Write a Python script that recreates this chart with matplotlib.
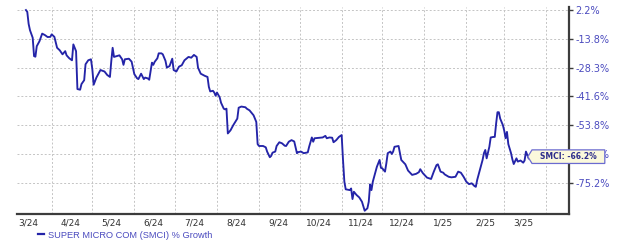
import numpy as np
import matplotlib
matplotlib.use('Agg')
import matplotlib.pyplot as plt
from matplotlib.path import Path
import pandas as pd

# Dati: crescita % di SMCI
DATES = [
    '2024-03-13', '2024-03-14', '2024-03-15', '2024-03-16', '2024-03-18', '2024-03-19', '2024-03-20',
    '2024-03-21', '2024-03-23', '2024-03-25', '2024-03-27', '2024-03-29', '2024-03-31', '2024-04-01',
    '2024-04-03', '2024-04-05', '2024-04-07', '2024-04-09', '2024-04-11', '2024-04-12', '2024-04-14',
    '2024-04-16', '2024-04-17', '2024-04-18', '2024-04-19', '2024-04-20', '2024-04-22', '2024-04-23',
    '2024-04-25', '2024-04-26', '2024-04-28', '2024-04-30', '2024-05-01', '2024-05-02', '2024-05-04',
    '2024-05-07', '2024-05-10', '2024-05-12', '2024-05-14', '2024-05-15', '2024-05-16', '2024-05-17',
    '2024-05-19', '2024-05-21', '2024-05-23', '2024-05-24', '2024-05-25', '2024-05-28', '2024-05-30',
    '2024-06-01', '2024-06-03', '2024-06-04', '2024-06-06', '2024-06-08', '2024-06-09', '2024-06-11',
    '2024-06-12', '2024-06-14', '2024-06-15', '2024-06-16', '2024-06-18', '2024-06-19', '2024-06-21',
    '2024-06-22', '2024-06-24', '2024-06-25', '2024-06-27', '2024-06-29', '2024-06-30', '2024-07-02',
    '2024-07-04', '2024-07-06', '2024-07-08', '2024-07-11', '2024-07-13', '2024-07-15', '2024-07-17',
    '2024-07-18', '2024-07-20', '2024-07-23', '2024-07-25', '2024-07-26', '2024-07-27', '2024-07-29',
    '2024-07-30', '2024-07-31', '2024-08-01', '2024-08-03', '2024-08-04', '2024-08-06', '2024-08-07',
    '2024-08-08', '2024-08-09', '2024-08-11', '2024-08-13', '2024-08-16', '2024-08-17', '2024-08-19',
    '2024-08-22', '2024-08-23', '2024-08-25', '2024-08-28', '2024-08-30', '2024-08-31', '2024-09-01',
    '2024-09-04', '2024-09-06', '2024-09-07', '2024-09-09', '2024-09-10', '2024-09-11', '2024-09-13',
    '2024-09-14', '2024-09-16', '2024-09-18', '2024-09-20', '2024-09-21', '2024-09-23', '2024-09-25',
    '2024-09-27', '2024-09-29', '2024-09-30', '2024-10-02', '2024-10-04', '2024-10-07', '2024-10-08',
    '2024-10-10', '2024-10-11', '2024-10-12', '2024-10-16', '2024-10-18', '2024-10-20', '2024-10-21',
    '2024-10-23', '2024-10-25', '2024-10-26', '2024-10-28', '2024-10-30', '2024-11-01', '2024-11-02',
    '2024-11-03', '2024-11-04', '2024-11-07', '2024-11-08', '2024-11-09', '2024-11-10', '2024-11-12',
    '2024-11-14', '2024-11-16', '2024-11-17', '2024-11-18', '2024-11-20', '2024-11-21', '2024-11-22',
    '2024-11-23', '2024-11-24', '2024-11-26', '2024-11-27', '2024-11-29', '2024-11-30', '2024-12-01',
    '2024-12-03', '2024-12-04', '2024-12-05', '2024-12-07', '2024-12-08', '2024-12-09', '2024-12-10',
    '2024-12-13', '2024-12-14', '2024-12-15', '2024-12-18', '2024-12-20', '2024-12-23', '2024-12-26',
    '2024-12-28', '2024-12-29', '2024-12-31', '2025-01-03', '2025-01-06', '2025-01-08', '2025-01-10',
    '2025-01-11', '2025-01-13', '2025-01-15', '2025-01-16', '2025-01-19', '2025-01-21', '2025-01-24',
    '2025-01-26', '2025-01-28', '2025-01-30', '2025-02-01', '2025-02-03', '2025-02-05', '2025-02-07',
    '2025-02-08', '2025-02-09', '2025-02-11', '2025-02-13', '2025-02-14', '2025-02-15', '2025-02-16',
    '2025-02-18', '2025-02-19', '2025-02-21', '2025-02-22', '2025-02-23', '2025-02-24', '2025-02-25',
    '2025-02-26', '2025-02-28', '2025-03-01', '2025-03-02', '2025-03-03', '2025-03-04', '2025-03-06',
    '2025-03-07', '2025-03-08', '2025-03-10', '2025-03-11', '2025-03-13', '2025-03-15', '2025-03-16',
    '2025-03-17', '2025-03-19',
]
GROWTH = [
    2.2, 1.2, -5.5, -9.0, -13.2, -22.5, -22.8,
    -17.5, -15.0, -10.9, -11.7, -12.8, -12.7, -11.3,
    -12.7, -18.3, -19.6, -21.6, -20.0, -22.1, -23.6,
    -24.6, -16.6, -18.3, -20.0, -38.2, -38.5, -35.9,
    -34.1, -26.6, -24.6, -24.1, -29.0, -36.2, -32.9,
    -29.4, -30.1, -31.7, -32.6, -25.0, -18.3, -22.9,
    -22.5, -22.1, -24.1, -26.9, -24.1, -23.8, -25.3,
    -31.3, -33.2, -33.6, -31.1, -33.6, -32.9, -33.3,
    -33.9, -25.8, -26.9, -25.4, -23.6, -21.1, -21.1,
    -21.6, -24.9, -28.3, -27.5, -23.8, -29.4, -30.1,
    -27.8, -27.1, -24.6, -22.9, -23.3, -21.9, -22.9,
    -28.3, -31.1, -32.1, -32.6, -37.2, -39.3, -39.0,
    -39.8, -41.3, -39.8, -42.0, -44.3, -46.8, -47.1,
    -46.8, -56.9, -55.7, -53.8, -51.0, -46.4, -45.9,
    -46.2, -46.8, -47.5, -49.6, -52.4, -60.9, -61.6,
    -61.6, -62.1, -63.7, -65.8, -65.3, -64.1, -63.7,
    -61.6, -60.2, -60.6, -61.5, -61.6, -60.0, -59.4,
    -59.9, -64.3, -63.9, -63.7, -64.3, -64.0, -61.9,
    -58.4, -60.0, -58.7, -58.5, -58.4, -57.8, -58.7,
    -58.4, -58.5, -60.2, -59.4, -58.2, -57.5, -66.8,
    -74.8, -77.6, -77.9, -77.3, -81.2, -78.5, -79.7,
    -80.6, -82.2, -83.8, -85.5, -84.6, -82.2, -75.8,
    -77.9, -74.8, -71.1, -69.3, -66.8, -69.7, -69.9,
    -71.1, -68.0, -64.3, -63.7, -64.6, -63.7, -61.9,
    -61.6, -64.3, -66.8, -68.4, -70.7, -72.3, -71.9,
    -71.3, -70.2, -71.7, -73.3, -73.8, -71.1, -68.7,
    -68.4, -71.1, -71.5, -72.1, -73.0, -73.2, -73.0,
    -71.1, -71.5, -73.0, -74.8, -75.7, -75.4, -76.4,
    -76.7, -74.2, -70.5, -66.8, -64.3, -63.1, -66.2,
    -61.9, -58.4, -58.2, -58.2, -53.1, -48.3, -48.3,
    -51.0, -53.8, -55.9, -58.7, -56.3, -60.9, -64.3,
    -66.6, -68.3, -66.2, -67.4, -67.0, -67.8, -67.0,
    -63.7, -66.2,
]

# Etichette dell'asse y (quella coperta dal riquadro e' stimata)
Y_TICKS = [2.2, -13.8, -28.3, -41.6, -53.8, -64.6, -75.2]
Y_LABELS = ['2.2%', '-13.8%', '-28.3%', '-41.6%', '-53.8%', '-64.6%', '-75.2%']
X_LABELS = ['3/24', '4/24', '5/24', '6/24', '7/24', '8/24', '9/24', '10/24',
            '11/24', '12/24', '1/25', '2/25', '3/25']
SERIES_NAME = 'SUPER MICRO COM (SMCI) % Growth'
TICKER = 'SMCI'

LINE_COLOR = '#2424a8'
LABEL_BLUE = '#4b4bbf'


# Scala y a tratti: le righe della griglia sono equidistanti ma i valori no
_xs = np.array(sorted(Y_TICKS), dtype=float)
_ps = np.arange(len(_xs), dtype=float)


def _piecewise(v, xs, ys):
    v = np.asarray(v, dtype=float)
    out = np.interp(v, xs, ys)
    s0 = (ys[1] - ys[0]) / (xs[1] - xs[0])
    s1 = (ys[-1] - ys[-2]) / (xs[-1] - xs[-2])
    out = np.where(v < xs[0], ys[0] + (v - xs[0]) * s0, out)
    out = np.where(v > xs[-1], ys[-1] + (v - xs[-1]) * s1, out)
    return out


def forward(v):
    return _piecewise(v, _xs, _ps)


def inverse(p):
    return _piecewise(p, _ps, _xs)


def tag_box(x0, y0, width, height, mutation_size):
    # riquadro con punta verso sinistra
    padx = mutation_size * 1.05
    pady = mutation_size * 0.3
    left, right = x0 - padx, x0 + width + padx
    bottom, top = y0 - pady, y0 + height + pady
    tip = left - mutation_size * 0.55
    verts = [(left, bottom), (right, bottom), (right, top), (left, top),
             (tip, (top + bottom) / 2), (left, bottom)]
    codes = [Path.MOVETO] + [Path.LINETO] * 4 + [Path.CLOSEPOLY]
    return Path(verts, codes)


dates = pd.to_datetime(DATES)

fig = plt.figure(figsize=(6.2, 2.46), dpi=100)
ax = fig.add_axes([17 / 620, 32 / 246, 552.3 / 620, 207 / 246])

ax.set_yscale('function', functions=(forward, inverse))

ax.plot(dates, GROWTH, color=LINE_COLOR, lw=1.35, label=SERIES_NAME,
        solid_joinstyle='round', zorder=3)

ax.set_xlim(pd.Timestamp('2024-03-06 10:00'), pd.Timestamp('2025-04-18'))
ax.set_ylim(-86.7, 3.9)

# Asse y a destra
ax.yaxis.tick_right()
ax.set_yticks(Y_TICKS)
ax.set_yticklabels(Y_LABELS)
ax.yaxis.set_minor_locator(matplotlib.ticker.NullLocator())
ax.tick_params(axis='y', which='major', length=3, width=1, color='#3c3c3c',
               pad=1.5, labelsize=7, labelcolor=LABEL_BLUE)

# Asse x: griglia a inizio mese, etichette a meta' mese
month_starts = pd.date_range('2024-04-01', '2025-04-01', freq='MS')
label_pos = pd.date_range('2024-03-01', '2025-03-01', freq='MS') + pd.Timedelta(days=14)
ax.set_xticks(month_starts)
ax.set_xticklabels([''] * len(month_starts))
ax.set_xticks(label_pos, minor=True)
ax.set_xticklabels(X_LABELS, minor=True)
ax.tick_params(axis='x', which='both', length=0)
ax.tick_params(axis='x', which='minor', pad=3, labelsize=6.5, labelcolor='#333333')

grid_kw = dict(color='#c4c4c4', lw=0.7, linestyle=(0, (2, 2)))
ax.grid(True, axis='x', which='major', **grid_kw)
ax.grid(True, axis='y', which='major', **grid_kw)

for side in ['top', 'left']:
    ax.spines[side].set_visible(False)
for side in ['right', 'bottom']:
    ax.spines[side].set_color('#3c3c3c')
    ax.spines[side].set_linewidth(1.6)

# Etichetta dell'ultimo valore (copre in parte l'etichetta dell'asse, come nell'originale)
last_x, last_y = dates[-1], GROWTH[-1]
ax.annotate(f'{TICKER}: {last_y:.1f}%', xy=(last_x, last_y), xytext=(8.2, 1.2),
            textcoords='offset points', ha='left', va='center',
            fontsize=5.5, fontweight='bold', color='#2d2d8c',
            bbox=dict(boxstyle=tag_box, facecolor='#fbf9dc', edgecolor='#6b6bd0', lw=0.9),
            annotation_clip=False, zorder=10)

# Legenda sotto il grafico
leg = ax.legend(loc='center left', bbox_to_anchor=(38 / 620, 11 / 246),
                bbox_transform=fig.transFigure, frameon=False,
                handlelength=0.6, handletextpad=0.5, borderpad=0, borderaxespad=0,
                prop={'family': 'Liberation Sans', 'size': 6.7})
for txt in leg.get_texts():
    txt.set_color(LABEL_BLUE)
leg.get_lines()[0].set_linewidth(1.6)

fig.savefig('out.png', dpi=100)
